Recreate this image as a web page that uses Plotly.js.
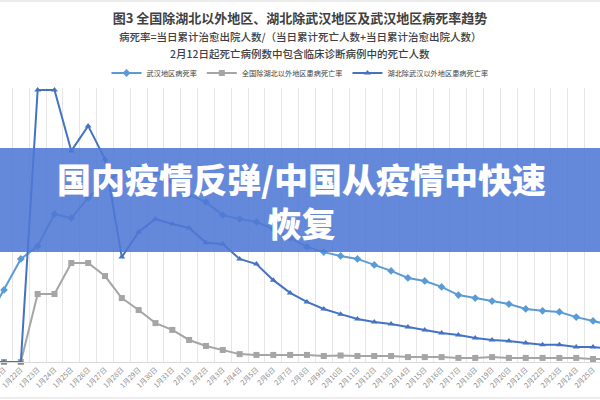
<!DOCTYPE html>
<html>
<head>
<meta charset="utf-8">
<script src="https://cdn.plot.ly/plotly-3.0.1.min.js"></script>
<style>html,body{margin:0;padding:0;background:#fff;}#chart{width:600px;height:400px;}</style>
</head>
<body>
<div id="chart"></div>
<script>
// ---- data (percent) ----
const dates = ["1月20日","1月21日","1月22日","1月23日","1月24日","1月25日","1月26日","1月27日","1月28日","1月29日","1月30日","1月31日",
  "2月1日","2月2日","2月3日","2月4日","2月5日","2月6日","2月7日","2月8日","2月9日","2月10日","2月11日","2月12日","2月13日",
  "2月14日","2月15日","2月16日","2月17日","2月18日","2月19日","2月20日","2月21日","2月22日","2月23日","2月24日","2月25日","2月26日"];
const wuhanRate = [15.4,26.5,37.9,42.6,54.4,52.9,60.3,66.2,69.9,71.3,69.9,66.2,61.4,58.8,54.0,52.6,51.5,48.9,45.6,42.3,40.4,39.0,37.9,35.7,33.5,30.9,29.8,27.6,24.6,23.5,22.4,21.3,19.5,18.8,18.4,16.5,15.1,13.6];
const nationExHubeiRate = [0,0,0,25.0,25.0,36.4,36.4,31.6,23.5,19.1,14.3,11.8,8.1,5.9,4.4,2.9,2.6,2.6,2.6,2.6,2.2,2.4,2.2,2.2,2.2,1.8,1.8,1.8,1.5,1.5,1.8,1.5,1.5,1.5,1.5,1.5,1.1,1.1];
const hubeiExWuhanRate = [0,0,0,100,100,77.6,86.8,74.6,38.6,47.8,52.6,50.7,49.3,43.8,43.4,37.9,36.0,30.1,25.4,22.1,19.5,17.6,15.8,14.7,14.0,12.9,11.8,10.7,9.9,8.8,8.1,7.7,7.0,6.3,6.3,5.5,5.5,4.8];
const seriesNames = ["武汉地区病死率","全国除湖北以外地区患病死亡率","湖北除武汉以外地区患病死亡率"];
const titleText = "图3 全国除湖北以外地区、湖北除武汉地区及武汉地区病死率趋势";
const subtitle1 = "病死率=当日累计治愈出院人数/（当日累计死亡人数+当日累计治愈出院人数）";
const subtitle2 = "2月12日起死亡病例数中包含临床诊断病例中的死亡人数";
const bannerText = "国内疫情反弹/中国从疫情中快速<br>恢复";

// ---- layout helpers ----
const plotTop = 88, plotBot = 362;
const py = p => (plotBot - p) / (plotBot - plotTop);
const FONT = "Noto Sans CJK SC, Noto Sans, sans-serif";

const mk = (y, name, color, symbol, size) => ({
  type: "scatter", mode: "lines+markers", x: dates, y: y, name: name,
  line: {color: color, width: 2},
  marker: {color: color, symbol: symbol, size: size},
  cliponaxis: false
});

const traces = [
  mk(wuhanRate, seriesNames[0], "#5b9bd5", "diamond", 6),
  mk(nationExHubeiRate, seriesNames[1], "#a5a5a5", "square", 6),
  mk(hubeiExWuhanRate, seriesNames[2], "#4472c4", "triangle-up", 6)
];

const layout = {
  width: 600, height: 400,
  margin: {l: 0, r: 0, t: plotTop, b: 400 - plotBot, pad: 0},
  paper_bgcolor: "#ffffff", plot_bgcolor: "#ffffff",
  font: {family: FONT, color: "#404040"},
  title: {text: titleText, x: 0.5, xanchor: "center", y: 1 - 18/400, yanchor: "middle",
          font: {family: FONT, size: 13, color: "#404040", weight: 700}},
  showlegend: true,
  legend: {orientation: "h", x: 0.5, xanchor: "center", y: py(73), yanchor: "middle",
           font: {family: FONT, size: 7.2, color: "#404040"}, bgcolor: "rgba(0,0,0,0)", itemwidth: 30},
  xaxis: {type: "category", range: [0.7623, 36.413], tickson: "boundaries",
          showgrid: true, gridcolor: "#e6e6e6", gridwidth: 1,
          showline: true, linecolor: "#d9d9d9", linewidth: 1,
          ticks: "", tickangle: -45, tickfont: {family: FONT, size: 7, color: "#8a8a8a"}, fixedrange: true},
  yaxis: {range: [0, (plotBot - plotTop) / 2.72], showgrid: false, zeroline: false, showline: false,
          showticklabels: false, ticks: "", fixedrange: true},
  shapes: [
    {type: "line", xref: "paper", yref: "paper", x0: 0, x1: 1, y0: py(1), y1: py(1), line: {color: "#d9d9d9", width: 1}},
    {type: "line", xref: "paper", yref: "paper", x0: 0, x1: 1, y0: py(398), y1: py(398), line: {color: "#d9d9d9", width: 1}},
    {type: "rect", xref: "paper", yref: "paper", x0: 0, x1: 1, y0: py(252), y1: py(148),
     fillcolor: "rgba(78,120,212,0.87)", line: {width: 0}, layer: "above"}
  ],
  annotations: [
    {text: subtitle1, xref: "paper", yref: "paper", x: 0.5, y: py(36), xanchor: "center", yanchor: "middle",
     showarrow: false, font: {family: FONT, size: 10.5, color: "#404040", weight: 500}},
    {text: subtitle2, xref: "paper", yref: "paper", x: 0.5, y: py(53), xanchor: "center", yanchor: "middle",
     showarrow: false, font: {family: FONT, size: 10.5, color: "#404040", weight: 500}},
    {text: bannerText, xref: "paper", yref: "paper", x: 0.502, y: py(200), xanchor: "center", yanchor: "middle",
     showarrow: false, font: {family: FONT, size: 34, color: "#ffffff", weight: 900}}
  ]
};

Plotly.newPlot("chart", traces, layout, {displayModeBar: false, staticPlot: true});
</script>
</body>
</html>
